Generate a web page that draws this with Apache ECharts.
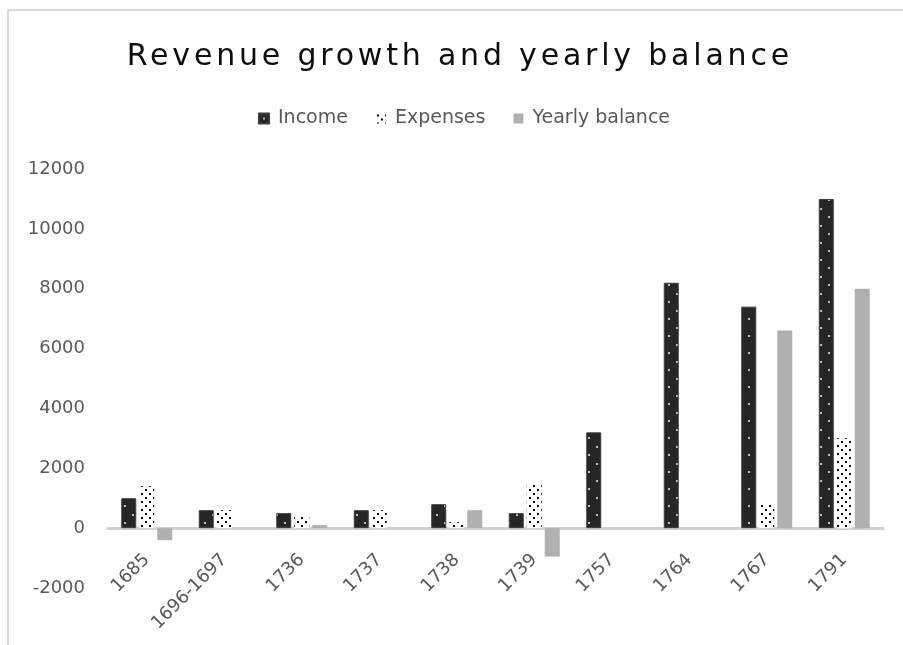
<!DOCTYPE html>
<html lang="en" style="height: 100%">
<head>
    <meta charset="UTF-8">
    <title>Revenue growth and yearly balance</title>
    <script src="https://cdn.jsdelivr.net/npm/echarts@6/dist/echarts.min.js"></script>
    <style>
        body { margin: 0; height: 100%; background: #fff; overflow: hidden; }
        #frame { position: absolute; left: 7px; top: 9px; width: 1000px; height: 1000px;
                 border-left: 2px solid #d9d9d9; border-top: 2px solid #d9d9d9; }
        #title { position: absolute; left: 0; top: 37px; width: 916px; text-align: center;
                 font: 30px "DejaVu Sans", sans-serif; line-height: 36px; letter-spacing: 3.8px;
                 padding-left: 3.8px; box-sizing: border-box; color: #0d0d0d; }
        #container { position: absolute; left: 0; top: 0; width: 903px; height: 645px; }
    </style>
</head>
<body>
<div id="frame"></div>
<div id="container"></div>
<div id="title">Revenue growth and yearly balance</div>

<script type="text/javascript">
    var years = ['1685', '1696-1697', '1736', '1737', '1738', '1739', '1757', '1764', '1767', '1791'];
    var income = [1000, 600, 500, 600, 800, 500, 3200, 8200, 7400, 11000];
    var expenses = [1400, 600, 400, 600, 200, 1450, null, null, 800, 3000];
    var balance = [-400, 0, 100, 0, 600, -950, null, null, 6600, 8000];

    // dotted fills like the office chart patterns
    function dots(w, h, bg, fg, pts) {
        var c = document.createElement('canvas');
        c.width = w;
        c.height = h;
        var ctx = c.getContext('2d');
        ctx.fillStyle = bg;
        ctx.fillRect(0, 0, w, h);
        ctx.fillStyle = fg;
        pts.forEach(function (p) { ctx.fillRect(p[0], p[1], 2, 2); });
        return {image: c, repeat: 'repeat'};
    }

    var incomeFill = dots(16, 17, '#262626', '#bdbdbd', [[4, 4], [12, 12]]);
    var expensesFill = dots(8, 8, '#ffffff', '#000000', [[1, 1], [5, 5]]);

    var labelFont = {fontFamily: 'DejaVu Sans', fontSize: 18, color: '#595959'};

    var dom = document.getElementById('container');
    var myChart = echarts.init(dom, null, {renderer: 'canvas'});

    var option = {
        animation: false,
        legend: {
            left: 253,
            top: 104,
            icon: 'rect',
            itemWidth: 10,
            itemHeight: 10,
            itemGap: 28,
            textStyle: {fontFamily: 'DejaVu Sans', fontSize: 19, color: '#595959', padding: [0, 0, 0, 4]},
            data: ['Income', 'Expenses', 'Yearly balance']
        },
        grid: {left: 108, right: 20, top: 169, bottom: 57, containLabel: false, outerBoundsMode: 'none'},
        xAxis: {
            type: 'category',
            data: years,
            axisTick: {show: false},
            axisLine: {lineStyle: {color: '#d0d0d0', width: 3}},
            // labels sit just under the zero line, as in the reference
            axisLabel: Object.assign({rotate: 45, margin: -31, interval: 0}, labelFont)
        },
        yAxis: {
            type: 'value',
            min: -2000,
            max: 12000,
            interval: 2000,
            splitLine: {show: false},
            axisLine: {show: false},
            axisTick: {show: false},
            axisLabel: Object.assign({margin: 23, formatter: function (v) { return String(v); }}, labelFont)
        },
        series: [
            {
                name: 'Income',
                type: 'bar',
                data: income,
                barWidth: 15,
                barGap: '20%',
                itemStyle: {color: incomeFill, borderColor: '#3d3d3d', borderWidth: 1}
            },
            {
                name: 'Expenses',
                type: 'bar',
                data: expenses,
                barWidth: 15,
                barGap: '20%',
                itemStyle: {color: expensesFill}
            },
            {
                name: 'Yearly balance',
                type: 'bar',
                data: balance,
                barWidth: 15,
                barGap: '20%',
                itemStyle: {color: '#b0b0b0'}
            }
        ]
    };
    myChart.setOption(option, true);
</script>
</body>
</html>
